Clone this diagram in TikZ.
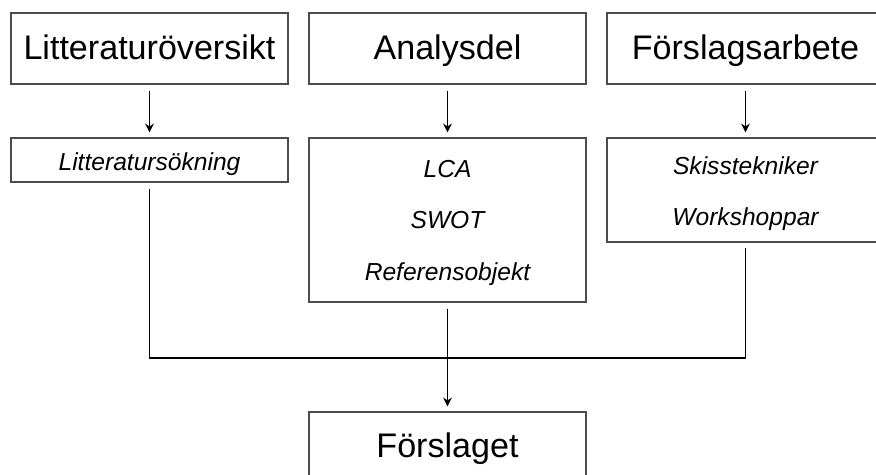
\documentclass[tikz,border=0pt]{standalone}
\usepackage{fontspec}
\setmainfont{Liberation Sans}
\usetikzlibrary{arrows.meta}
\begin{document}
\begin{tikzpicture}[x=0.02cm,y=-0.02cm,
  rubrik/.style={draw=black!70,line width=0.7pt,minimum width=5.54cm,minimum height=1.42cm,inner sep=0pt,text height=16pt,text depth=4pt,font=\fontsize{19.4}{23}\selectfont},
  metod/.style={draw=black!70,line width=0.7pt,minimum width=5.54cm,inner sep=0pt,align=center,font=\itshape\fontsize{14}{29.2}\selectfont},
  pil/.style={black,line width=1pt,-{Stealth[length=5pt,width=5pt]},shorten <=0.12cm,shorten >=0.1cm},
  linje/.style={black,line width=1pt,shorten <=0.12cm,shorten >=0.1cm}]
\useasboundingbox (0,0) rectangle (876,474);
\clip (0,0) rectangle (876,474);
\node[rubrik](lit) at (149.5,48.5) {Litteraturöversikt};
\node[rubrik](ana) at (447.5,48.5) {Analysdel};
\node[rubrik](fors) at (745.5,48.5) {Förslagsarbete};
\node[metod,minimum height=0.88cm,text height=14pt,text depth=2.6pt](litsok) at (149.5,160) {Litteratursökning};
\node[metod,minimum height=3.28cm](metoder) at (447.5,220) {\rule{0pt}{13pt}LCA\\SWOT\\Referensobjekt};
\node[metod,minimum height=2.08cm](skiss) at (745.5,190) {\rule{0pt}{14.5pt}Skisstekniker\\Workshoppar};
\node[rubrik,minimum height=1.4cm](forslaget) at (447.5,447) {Förslaget};
\coordinate (led) at (447.5,358);
\draw[pil] (lit) -- (litsok);
\draw[pil] (ana) -- (metoder);
\draw[pil] (fors) -- (skiss);
\draw[linje] (litsok.south) |- (led) -| (skiss.south);
\draw[pil] (metoder) -- (forslaget);
\end{tikzpicture}
\end{document}
